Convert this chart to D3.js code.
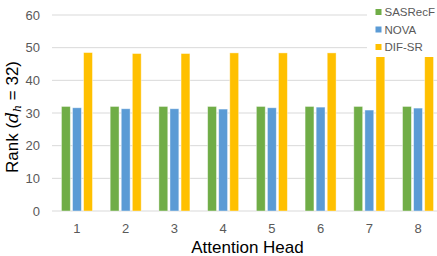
<!DOCTYPE html>
<html>
<head>
<meta charset="utf-8">
<script src="https://cdn.jsdelivr.net/npm/d3@7"></script>
<style>
  body { margin: 0; background: #fff; }
  text { font-family: "Liberation Sans", Arial, sans-serif; }
</style>
</head>
<body>
<script>
// data
const heads = ["1", "2", "3", "4", "5", "6", "7", "8"];
const seriesNames = ["SASRecF", "NOVA", "DIF-SR"];
const sasrecf = [32.0, 32.0, 32.0, 32.0, 32.0, 32.0, 32.0, 32.0];
const nova = [31.6, 31.3, 31.3, 31.2, 31.6, 31.8, 30.9, 31.5];
const difsr = [48.5, 48.2, 48.2, 48.4, 48.4, 48.4, 48.0, 47.9];
const yTicks = [0, 10, 20, 30, 40, 50, 60];
const colors = ["#70ad47", "#5b9bd5", "#ffc000"];

const w = 437, h = 256;
const svg = d3.select("body").append("svg")
  .attr("width", w).attr("height", h);

const x = d3.scaleBand().domain(heads).range([52.6, 442.4]);
const y = d3.scaleLinear().domain([0, 60]).range([211, 15]);
const xs = d3.scaleBand().domain(seriesNames).range([0, 31]).paddingInner(0.2);

// grid
svg.append("g").selectAll("line")
  .data(yTicks)
  .enter().append("line")
    .attr("x1", 52).attr("x2", w)
    .attr("y1", d => y(d)).attr("y2", d => y(d))
    .attr("stroke", "#d9d9d9").attr("stroke-width", 1);

// y tick labels
svg.append("g").selectAll("text")
  .data(yTicks)
  .enter().append("text")
    .attr("x", 40).attr("y", d => y(d))
    .attr("dy", "0.35em")
    .attr("text-anchor", "end")
    .attr("font-size", 13)
    .attr("fill", "#595959")
    .text(d => d);

// x tick labels
svg.append("g").selectAll("text")
  .data(heads)
  .enter().append("text")
    .attr("x", d => x(d) + x.bandwidth() / 2)
    .attr("y", 228)
    .attr("dy", "0.35em")
    .attr("text-anchor", "middle")
    .attr("font-size", 13)
    .attr("fill", "#595959")
    .text(d => d);

// bars
const allSeries = [sasrecf, nova, difsr];
const offset = (x.bandwidth() - 31) / 2;
allSeries.forEach((vals, si) => {
  svg.append("g").selectAll("rect")
    .data(vals)
    .enter().append("rect")
      .attr("x", (d, i) => x(heads[i]) + offset + xs(seriesNames[si]))
      .attr("width", xs.bandwidth())
      .attr("y", d => y(d))
      .attr("height", d => y(0) - y(d))
      .attr("fill", colors[si])
      .attr("stroke", "#ffffff")
      .attr("stroke-opacity", 0.5)
      .attr("stroke-width", 0.8);
});

// legend
const legend = svg.append("g");
legend.append("rect")
  .attr("x", 367).attr("y", 3).attr("width", 70).attr("height", 54)
  .attr("fill", "#fff");
seriesNames.forEach((name, i) => {
  const ly = 12 + i * 17.5;
  legend.append("rect")
    .attr("x", 375.5).attr("y", ly - 3).attr("width", 6).attr("height", 6)
    .attr("fill", colors[i]);
  legend.append("text")
    .attr("x", 384.5).attr("y", ly)
    .attr("dy", "0.35em")
    .attr("font-size", 11.5)
    .attr("fill", "#595959")
    .text(name);
});

// axis titles
svg.append("text")
  .attr("x", 247.5).attr("y", 253)
  .attr("text-anchor", "middle")
  .attr("font-size", 17)
  .attr("fill", "#000")
  .text("Attention Head");

const yl = svg.append("text")
  .attr("transform", "translate(18,117) rotate(-90)")
  .attr("text-anchor", "middle")
  .attr("font-size", 17)
  .attr("fill", "#000");
yl.append("tspan").text("Rank  (");
yl.append("tspan").attr("font-style", "italic").attr("font-family", "DejaVu Serif, serif").text("d");
yl.append("tspan").attr("font-style", "italic").attr("font-family", "DejaVu Serif, serif")
  .attr("font-size", 11).attr("dy", 3).text("h");
yl.append("tspan").attr("dy", -3).text(" = 32)");
</script>
</body>
</html>
